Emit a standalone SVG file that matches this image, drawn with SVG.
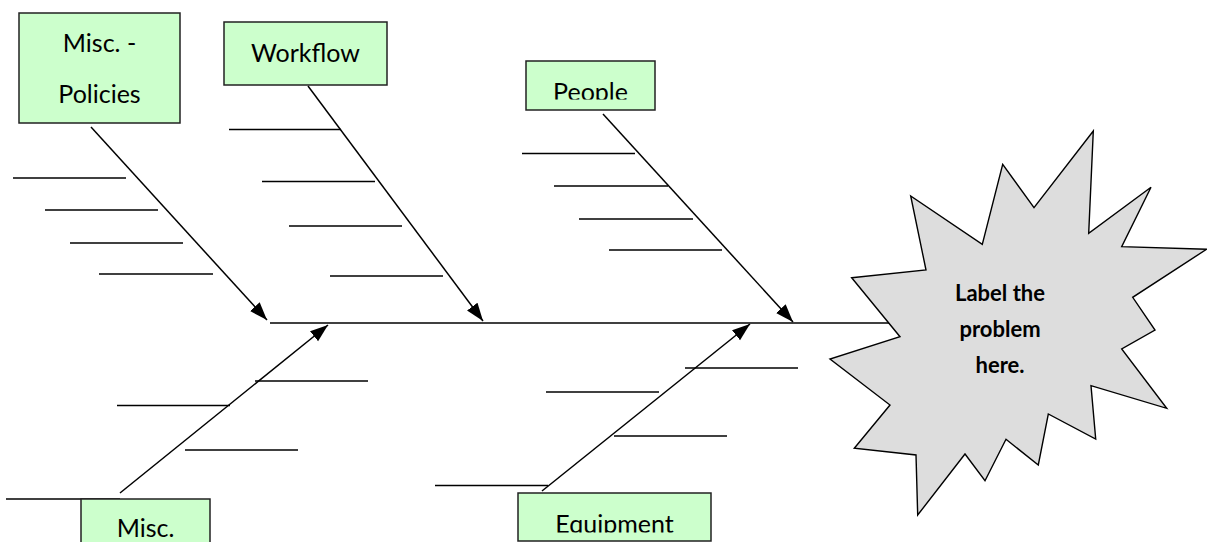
<svg xmlns="http://www.w3.org/2000/svg" width="1207" height="542" viewBox="0 0 1207 542">
<style>
.box{fill:#ccffcc;stroke:#222;stroke-width:1.5}
.lbl{font-family:Lato,"Liberation Sans",sans-serif;font-size:25px;fill:#000;text-anchor:middle}
.ln{stroke:#000;stroke-width:1.5;fill:none}
.arr{stroke:#000;stroke-width:1.5;fill:none;marker-end:url(#ah)}
.star{fill:#dddddd;stroke:#000;stroke-width:1.4;stroke-linejoin:miter}
.bold{font-family:Lato,"Liberation Sans",sans-serif;font-size:22px;font-weight:bold;fill:#000;text-anchor:middle}
</style>
<defs>
<marker id="ah" markerUnits="userSpaceOnUse" markerWidth="20" markerHeight="14" refX="18" refY="6.5" orient="auto">
<path d="M0,0 L18,6.5 L0,13 z" fill="#000"/>
</marker>
<clipPath id="clipPeople"><rect x="526" y="61" width="129" height="38.5"/></clipPath>
<clipPath id="clipEquip"><rect x="518" y="493" width="193" height="39.5"/></clipPath>
</defs>
<g id="connectors">
<line class="ln" x1="270" y1="323" x2="900" y2="323"/>
<line class="arr" x1="91" y1="127" x2="267" y2="320"/>
<line class="ln" x1="13" y1="178" x2="126" y2="178"/>
<line class="ln" x1="45" y1="210" x2="158" y2="210"/>
<line class="ln" x1="70" y1="243" x2="183" y2="243"/>
<line class="ln" x1="99" y1="274" x2="213" y2="274"/>
<line class="arr" x1="308" y1="86" x2="483" y2="321"/>
<line class="ln" x1="229" y1="129.5" x2="341" y2="129.5"/>
<line class="ln" x1="262" y1="181.5" x2="375" y2="181.5"/>
<line class="ln" x1="289" y1="226" x2="402" y2="226"/>
<line class="ln" x1="330" y1="276" x2="443" y2="276"/>
<line class="arr" x1="603" y1="114" x2="793" y2="322"/>
<line class="ln" x1="522" y1="153.5" x2="635" y2="153.5"/>
<line class="ln" x1="554" y1="186" x2="668" y2="186"/>
<line class="ln" x1="579" y1="219" x2="693" y2="219"/>
<line class="ln" x1="609" y1="250" x2="722" y2="250"/>
<line class="arr" x1="120" y1="493" x2="328" y2="325"/>
<line class="ln" x1="255" y1="381" x2="368" y2="381"/>
<line class="ln" x1="117" y1="405.5" x2="230" y2="405.5"/>
<line class="ln" x1="185" y1="450" x2="298" y2="450"/>
<line class="ln" x1="6" y1="499" x2="120" y2="499"/>
<line class="arr" x1="542" y1="491" x2="750" y2="324"/>
<line class="ln" x1="685" y1="368" x2="798" y2="368"/>
<line class="ln" x1="546" y1="392" x2="659" y2="392"/>
<line class="ln" x1="614" y1="436" x2="727" y2="436"/>
<line class="ln" x1="435" y1="485.5" x2="548" y2="485.5"/>
</g>
<g id="node-misc-policies">
<rect class="box" x="19" y="13" width="161" height="110"/>
<text class="lbl" x="99.5" y="52">Misc. -</text>
<text class="lbl" x="99.5" y="103">Policies</text>
</g>
<g id="node-workflow">
<rect class="box" x="224" y="22" width="163" height="63"/>
<text class="lbl" x="305.5" y="62">Workflow</text>
</g>
<g id="node-people">
<rect class="box" x="526" y="61" width="129" height="49"/>
<text class="lbl" x="590.5" y="101" clip-path="url(#clipPeople)">People</text>
</g>
<g id="node-misc">
<rect class="box" x="81" y="499" width="129" height="50"/>
<text class="lbl" x="145.5" y="537">Misc.</text>
</g>
<g id="node-equipment">
<rect class="box" x="518" y="493" width="193" height="48"/>
<text class="lbl" x="614.5" y="533" clip-path="url(#clipEquip)">Equipment</text>
</g>
<g id="node-problem">
<polygon class="star" points="851.7,277.7 926,270 910.7,196 982.3,244.3 1002.7,164.3 1034,207.7 1093.3,131 1088.7,233.3 1151,187.3 1121.7,246.7 1206.5,249.3 1132.7,297.3 1155,330 1121.7,349 1166.7,408.3 1091,385.7 1095.7,439 1048.3,414 1038.3,465 1006,439.3 985,480.7 965,454 917.7,515 916,455 854.3,448.3 890,405 830,359 900,336.7"/>
<text class="bold" x="1000" y="301">Label the</text>
<text class="bold" x="1000" y="337">problem</text>
<text class="bold" x="1000" y="373">here.</text>
</g>
</svg>
